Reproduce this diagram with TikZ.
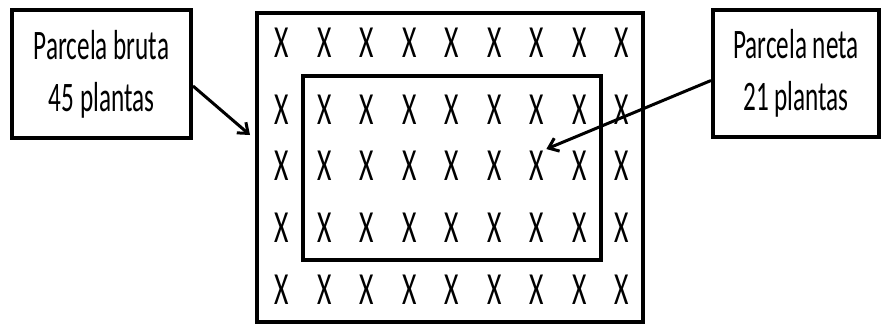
\documentclass[tikz,border=0pt]{standalone}
\usepackage{fontspec}
\setmainfont{Carlito}
\newfontfamily\narrowfont[FakeStretch=0.6]{Carlito}
\usetikzlibrary{arrows.meta, positioning}

\begin{document}
\begin{tikzpicture}[x=1pt, y=-1pt]
\useasboundingbox (0,0) rectangle (882,324);
\tikzset{
    labelbox/.style={draw, line width=4pt, inner sep=0pt, align=center,
        font=\narrowfont\fontsize{42}{52}\selectfont},
    plotbox/.style={draw, line width=4pt, inner sep=0pt},
    plant/.style={font=\narrowfont\fontsize{46}{50}\selectfont, inner sep=2pt},
    pointer/.style={-{Straight Barb[length=9pt, width=14pt]}, line width=3pt}
}

% plots
\node[plotbox, minimum width=386, minimum height=309] (outer) at (450,167.5) {};
\node[plotbox, line width=4.5pt, minimum width=298, minimum height=184] (inner) at (452,168) {};

% plants
\foreach \r/\y in {1/43, 2/110, 3/166, 4/228, 5/290} {
    \foreach \c in {1,...,9} {
        \node[plant] (x-\r-\c) at ({282+42.5*(\c-1)},\y) {X};
    }
}

% labels
\node[labelbox, minimum width=179, minimum height=128] (bruta) at (101.5,74) {Parcela bruta\\45 plantas};
\node[labelbox, minimum width=166, minimum height=127] (neta) at (796,73.5) {Parcela neta\\21 plantas};

\coordinate (brutatip) at (250,135);
\draw[pointer] ([yshift=-12pt]bruta.east) -- (brutatip);
\draw[pointer] ([yshift=-7pt]neta.west) -- (x-3-7.north east);
\end{tikzpicture}
\end{document}
